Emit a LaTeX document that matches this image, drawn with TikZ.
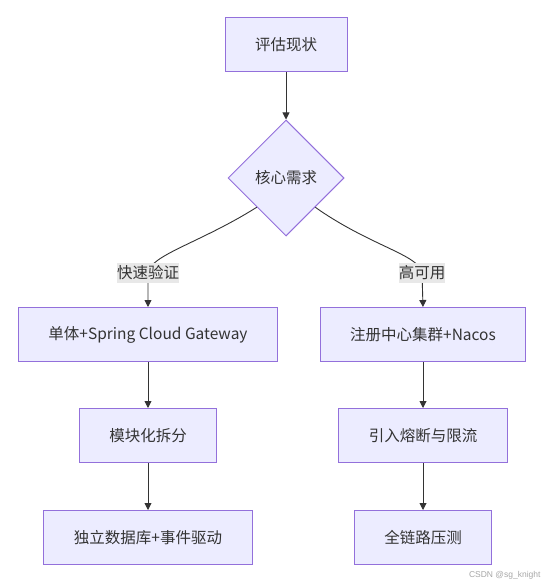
\documentclass[tikz,border=0pt]{standalone}
\usepackage{fontspec}
\setmainfont{Noto Sans CJK SC}
\newfontfamily\wmfont{Liberation Sans}
\usepackage{xcolor}
\usetikzlibrary{arrows.meta, shapes.geometric}

\definecolor{nodefill}{HTML}{ECECFF}
\definecolor{nodeline}{HTML}{9370DB}
\definecolor{edgeline}{HTML}{333333}
\definecolor{lblfill}{HTML}{E8E8E8}

\begin{document}
\begin{tikzpicture}[
    x=1pt, y=-1pt,
    font=\fontsize{15.5pt}{18pt}\selectfont,
    text=edgeline,
    box/.style={draw=nodeline, fill=nodefill, line width=1pt,
                inner xsep=30pt, minimum height=54pt},
    decide/.style={diamond, aspect=1, draw=nodeline, fill=nodefill,
                   line width=1pt, inner sep=0pt,
                   minimum width=116pt, minimum height=116pt},
    lbl/.style={fill=lblfill, inner xsep=0pt, inner ysep=3pt},
    arr/.style={-{Triangle[length=7pt,width=7pt]}, draw=edgeline, line width=0.9pt},
  ]
  \useasboundingbox (0,0) rectangle (547,585);

  % top of the flow
  \node[box]    (eval) at (286,45)  {评估现状};
  \node[decide] (need) at (286,178) {核心需求};

  % left column: quick validation
  \node[box] (mono)   at (148,334.5) {单体+Spring Cloud Gateway};
  \node[box] (split)  at (148,435.5) {模块化拆分};
  \node[box] (events) at (148,537.5) {独立数据库+事件驱动};

  % right column: high availability
  \node[box] (nacos)   at (423,334.5) {注册中心集群+Nacos};
  \node[box] (breaker) at (423,435.5) {引入熔断与限流};
  \node[box] (stress)  at (423,537.5) {全链路压测};

  % label points on the two branches
  \coordinate (fastpt) at (148,273);
  \coordinate (hapt)   at (422,273);

  \draw[arr] (eval) -- (need);

  % branches leave the lower sides of the diamond, bend down through the labels
  \draw[arr] (need.south west) .. controls (200,243) and (150,255) .. (fastpt)
        node[lbl] {快速验证} -- (mono.north);
  \draw[arr] (need.south east) .. controls (370,246) and (420,255) .. (hapt)
        node[lbl] {高可用} -- (nacos.north);

  \draw[arr] (mono)  -- (split);
  \draw[arr] (split) -- (events);
  \draw[arr] (nacos)   -- (breaker);
  \draw[arr] (breaker) -- (stress);

  % watermark
  \node[font=\wmfont\fontsize{8.5pt}{10pt}\selectfont, text=black!35, anchor=east]
        (mark) at (544,575) {CSDN @sg\_knight};

\end{tikzpicture}
\end{document}
